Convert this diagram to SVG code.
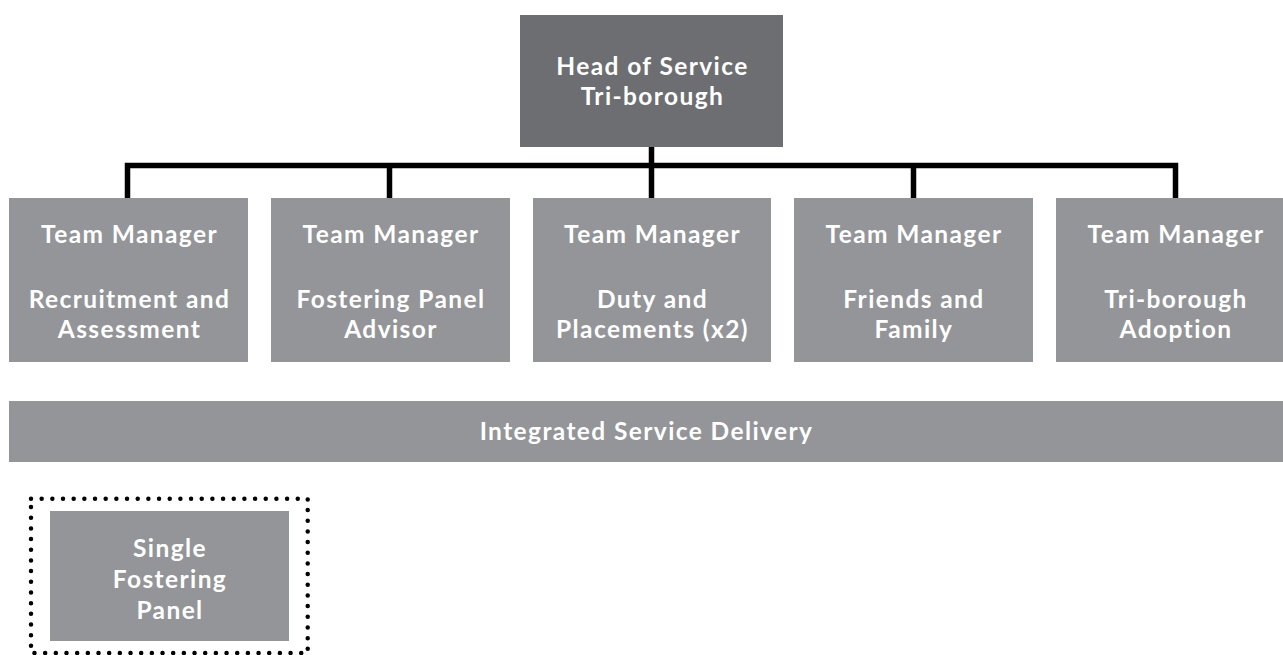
<svg xmlns="http://www.w3.org/2000/svg" width="1283" height="655" viewBox="0 0 1283 655">
<style>
.t{font-family:Lato,"Open Sans","Liberation Sans",sans-serif;font-weight:700;font-size:24.5px;letter-spacing:1.4px;fill:#ffffff;text-anchor:middle}
.head{fill:#6d6e71}
.box{fill:#939598}
.conn{fill:none;stroke:#000000;stroke-width:5.5;stroke-linejoin:miter;stroke-linecap:butt}
</style>
<rect width="1283" height="655" fill="#ffffff"/>
<g id="connectors">
<path class="conn" d="M127.5,198 V165.5 H1175.5 V198"/>
<path class="conn" d="M651.5,147 V198"/>
<path class="conn" d="M389.5,165.5 V198"/>
<path class="conn" d="M913.5,165.5 V198"/>
</g>
<g id="head">
<rect class="head" x="520" y="15" width="263" height="132"/>
<text class="t" x="652.5" y="75">Head of Service</text>
<text class="t" x="652.5" y="105">Tri-borough</text>
</g>
<g id="tm1">
<rect class="box" x="9" y="198" width="239" height="164"/>
<text class="t" x="129.5" y="243">Team Manager</text>
<text class="t" x="129.5" y="308">Recruitment and</text>
<text class="t" x="129.5" y="338">Assessment</text>
</g>
<g id="tm2">
<rect class="box" x="271" y="198" width="239" height="164"/>
<text class="t" x="391" y="243">Team Manager</text>
<text class="t" x="391" y="308">Fostering Panel</text>
<text class="t" x="391" y="338">Advisor</text>
</g>
<g id="tm3">
<rect class="box" x="533" y="198" width="238" height="164"/>
<text class="t" x="652.5" y="243">Team Manager</text>
<text class="t" x="652.5" y="308">Duty and</text>
<text class="t" x="652.5" y="338">Placements (x2)</text>
</g>
<g id="tm4">
<rect class="box" x="794" y="198" width="239" height="164"/>
<text class="t" x="914" y="243">Team Manager</text>
<text class="t" x="914" y="308">Friends and</text>
<text class="t" x="914" y="338">Family</text>
</g>
<g id="tm5">
<rect class="box" x="1056" y="198" width="239" height="164"/>
<text class="t" x="1176" y="243">Team Manager</text>
<text class="t" x="1176" y="308">Tri-borough</text>
<text class="t" x="1176" y="338">Adoption</text>
</g>
<g id="isd">
<rect class="box" x="9" y="401" width="1274" height="61"/>
<text class="t" x="646.5" y="440">Integrated Service Delivery</text>
</g>
<g id="sfp">
<rect x="31" y="498.7" width="276.7" height="154.3" fill="none" stroke="#000000" stroke-width="4.5" stroke-linecap="round" stroke-dasharray="0 10.67"/>
<rect class="box" x="50" y="511" width="239" height="130"/>
<text class="t" x="170" y="557">Single</text>
<text class="t" x="170" y="588">Fostering</text>
<text class="t" x="170" y="619">Panel</text>
</g>
</svg>
